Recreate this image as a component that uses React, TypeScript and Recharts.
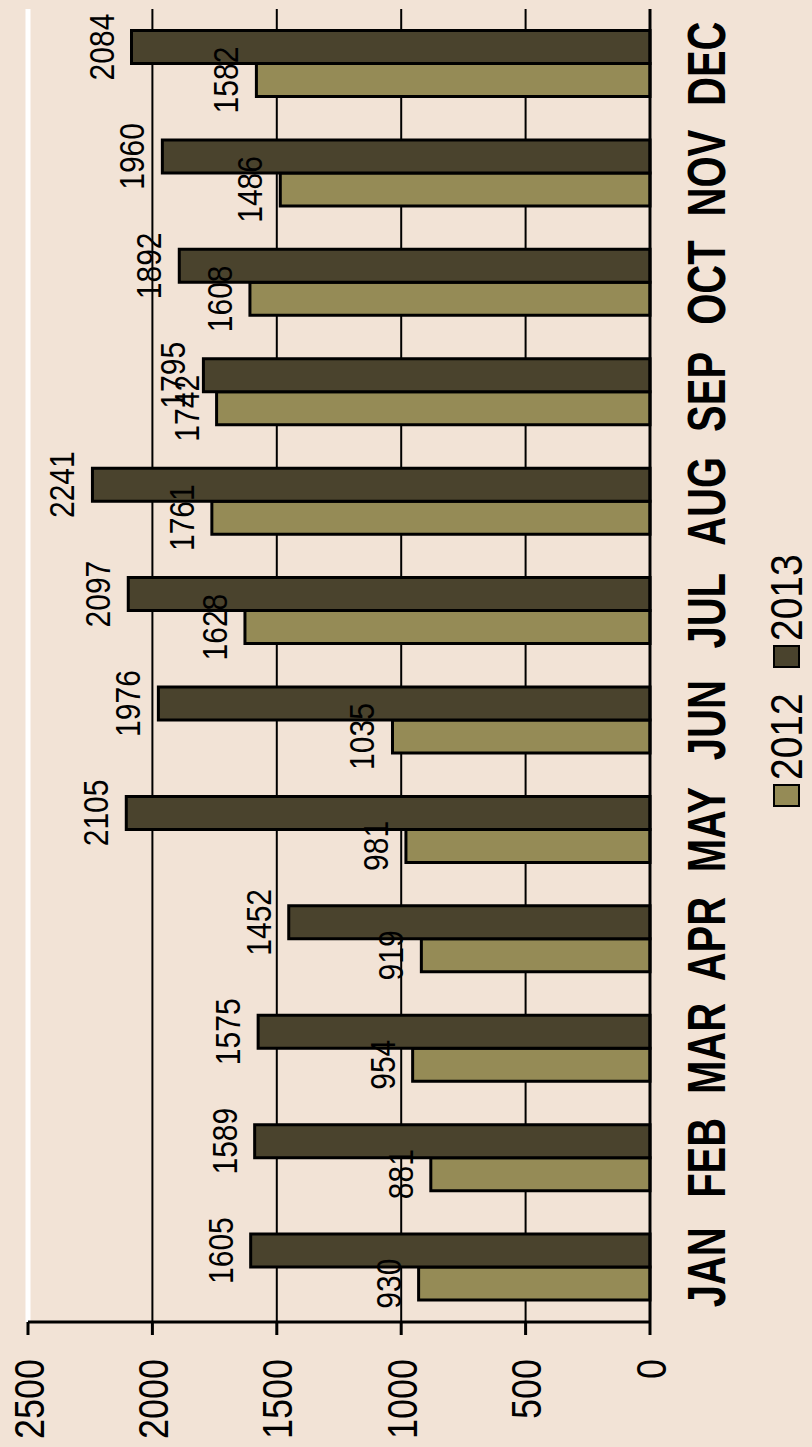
import { BarChart, Bar, XAxis, YAxis, CartesianGrid, LabelList, Legend, ReferenceLine } from 'recharts'

const months = ['JAN', 'FEB', 'MAR', 'APR', 'MAY', 'JUN', 'JUL', 'AUG', 'SEP', 'OCT', 'NOV', 'DEC']
const sales2012 = [930, 881, 954, 919, 981, 1035, 1628, 1761, 1742, 1608, 1486, 1582]
const sales2013 = [1605, 1589, 1575, 1452, 2105, 1976, 2097, 2241, 1795, 1892, 1960, 2084]
const valueTicks = [0, 500, 1000, 1500, 2000, 2500]
// band edges, so the month tick marks sit between the bars like in Excel
const monthEdges = [0, 1, 2, 3, 4, 5, 6, 7, 8, 9, 10, 11, 12]

const OLIVE = '#958b56'
const DARK = '#4a432d'
const BG = '#f2e3d6'

const data = months.map((m, i) => ({ month: m, y2012: sales2012[i], y2013: sales2013[i] }))

// the original picture is stretched, so text gets a small vertical scale
function ValueTick(props: any) {
  const { x, y, payload } = props
  return (
    <text transform={`translate(${x},${y + 15.5}) scale(1,1.2)`} textAnchor="end" fontSize={36} fill="#000">
      {payload.value}
    </text>
  )
}

function MonthTick(props: any) {
  const { x, y, payload } = props
  return (
    <text transform={`translate(${x},${y + 60}) scale(1,1.33)`} textAnchor="middle" fontSize={40} fontWeight="bold" fill="#000">
      {payload.value}
    </text>
  )
}

function BarValue(props: any) {
  const { x, y, width, value } = props
  const cx = Number(x) + Number(width) / 2
  return (
    <text transform={`translate(${cx},${Number(y) - 18}) scale(1,1.15)`} textAnchor="middle" fontSize={30} fill="#000">
      {value}
    </text>
  )
}

function LegendBoxes(props: any) {
  const items = props.payload ?? []
  return (
    <svg width={270} height={56} style={{ overflow: 'visible' }}>
      {items.map((entry: any, i: number) => (
        <g key={entry.value} transform={`translate(${i * 139},0)`}>
          <rect x={1} y={20} width={21} height={25} fill={entry.color} stroke="#000" strokeWidth={2} />
          <text transform="translate(27,48) scale(1,1.15)" fontSize={39} fill="#000">
            {entry.value}
          </text>
        </g>
      ))}
    </svg>
  )
}

export default function App() {
  return (
    <div
      style={{
        position: 'absolute',
        left: 0,
        top: 0,
        width: 812,
        height: 1447,
        background: BG,
        overflow: 'hidden',
        fontFamily: '"Liberation Sans", Arial, sans-serif',
      }}
    >
      {/* chart is drawn upright, then turned a quarter to the left */}
      <div
        style={{
          position: 'absolute',
          left: 0,
          top: 0,
          width: 1447,
          height: 812,
          transformOrigin: '0 0',
          transform: 'translateY(1447px) rotate(-90deg)',
        }}
      >
        <BarChart
          width={1447}
          height={812}
          data={data}
          margin={{ top: 28, right: 9, left: 0, bottom: 62 }}
          barCategoryGap="20%"
          barGap={0}
        >
          <CartesianGrid vertical={false} stroke="#000" strokeWidth={2} />
          <XAxis
            xAxisId={0}
            type="number"
            domain={[0, 12]}
            ticks={monthEdges}
            tick={false}
            tickSize={15}
            height={15}
            allowDataOverflow
            tickLine={{ stroke: '#000', strokeWidth: 3 }}
            axisLine={{ stroke: '#000', strokeWidth: 3 }}
          />
          <XAxis
            xAxisId={1}
            dataKey="month"
            type="category"
            interval={0}
            height={85}
            tickSize={0}
            tickMargin={0}
            axisLine={false}
            tickLine={false}
            tick={<MonthTick />}
          />
          <YAxis
            domain={[0, 2500]}
            ticks={valueTicks}
            width={125}
            tickSize={13}
            tickMargin={24}
            tick={<ValueTick />}
            tickLine={{ stroke: '#000', strokeWidth: 3 }}
            axisLine={{ stroke: '#000', strokeWidth: 3 }}
          />
          <YAxis
            yAxisId="r"
            orientation="right"
            domain={[0, 2500]}
            width={0}
            tick={false}
            tickLine={false}
            axisLine={{ stroke: '#fff', strokeWidth: 5 }}
          />
          <ReferenceLine y={2500} stroke="#fff" strokeWidth={5} />
          <Legend
            layout="horizontal"
            verticalAlign="middle"
            align="center"
            wrapperStyle={{ left: 640, top: 754, width: 270, height: 56 }}
            content={<LegendBoxes />}
          />
          <Bar xAxisId={1} dataKey="y2012" name="2012" fill={OLIVE} stroke="#000" strokeWidth={3} isAnimationActive={false}>
            <LabelList dataKey="y2012" content={<BarValue />} />
          </Bar>
          <Bar xAxisId={1} dataKey="y2013" name="2013" fill={DARK} stroke="#000" strokeWidth={3} isAnimationActive={false}>
            <LabelList dataKey="y2013" content={<BarValue />} />
          </Bar>
        </BarChart>
      </div>
    </div>
  )
}
